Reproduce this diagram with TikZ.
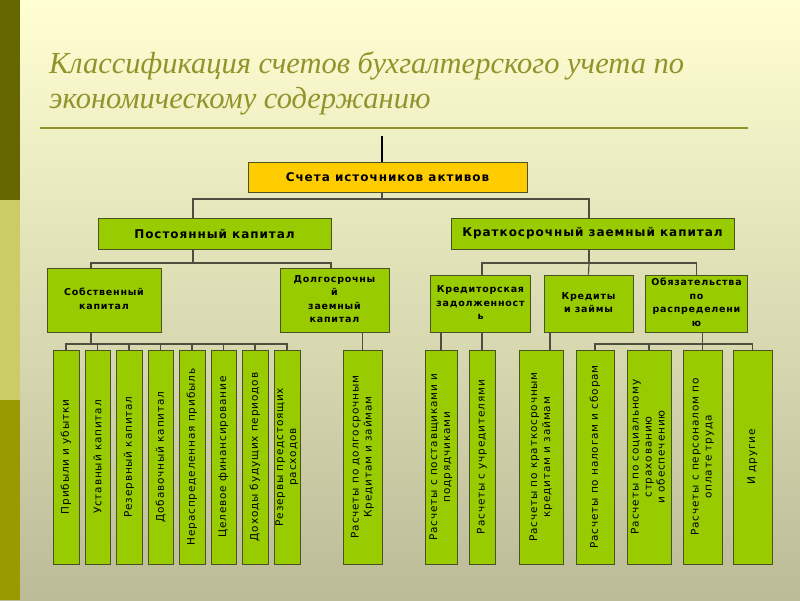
\documentclass[tikz,border=0pt]{standalone}
\usepackage{fontspec}
\setmainfont{Liberation Serif}
\newfontfamily\boxfont[LetterSpace=8]{DejaVu Sans}
\usetikzlibrary{calc}

\definecolor{bgtop}{HTML}{FFFFD2}
\definecolor{bgbot}{HTML}{BBBB98}
\definecolor{stripedark}{HTML}{666600}
\definecolor{stripelight}{HTML}{CCCC66}
\definecolor{stripemid}{HTML}{999900}
\definecolor{titlecol}{HTML}{93932C}
\definecolor{boxgreen}{HTML}{99CC00}
\definecolor{boxgold}{HTML}{FFCC00}
\definecolor{boxline}{HTML}{4A5222}
\definecolor{linkcol}{HTML}{4D4D40}

\tikzset{
  box/.style={rectangle, draw=boxline, line width=0.9pt, fill=boxgreen, inner sep=0pt, centered},
  headbox/.style={box, font=\boxfont\bfseries\fontsize{12}{13}\selectfont, minimum height=31pt},
  midbox/.style={box, font=\boxfont\bfseries\fontsize{9.5}{13.5}\selectfont},
  barbox/.style={box, font=\boxfont\fontsize{10.5}{13}\selectfont, minimum height=214pt},
  link/.style={draw=linkcol, line width=1.2pt},
}

\begin{document}
\begin{tikzpicture}[x=1pt, y=-1pt]
    \useasboundingbox (0,0) rectangle (800,600);
    \shade[top color=bgtop, bottom color=bgbot] (0,0) rectangle (800,600);
    \fill[stripedark] (0,0) rectangle (20,200);
    \fill[stripelight] (0,200) rectangle (20,400);
    \fill[stripemid] (0,400) rectangle (20,600);

    \node (title) [anchor=north west, align=left, text=titlecol, font=\itshape\fontsize{30.5}{35}\selectfont, inner sep=0pt] at (49,51) {Классификация счетов бухгалтерского учета по\\экономическому содержанию};
    \draw[titlecol, line width=2pt] (40,128) -- (748,128);

    \node (src) [headbox, fill=boxgold, minimum width=279pt, minimum height=30pt] at (387.5,177) {Счета источников активов};

    \node (perm) [headbox, minimum width=233pt] at (214.5,233.5) {Постоянный капитал};
    \node (short) [headbox, minimum width=283pt] at (592.5,233.5) {Краткосрочный заемный капитал};

    \node (own) [midbox, minimum width=114pt, minimum height=64pt] at (104,300) {\begin{tabular}{c}
         Собственный\\ капитал
    \end{tabular}};
    \node (long) [midbox, minimum width=109pt, minimum height=64pt] at (334.5,300) {\begin{tabular}{c}
         Долгосрочны\\ й\\ заемный\\ капитал
    \end{tabular}};
    \node (cred) [midbox, minimum width=97pt, minimum height=57pt] at (480.5,303.5) {\begin{tabular}{c}
         Кредиторская\\ задолженност\\ ь
    \end{tabular}};
    \node (loans) [midbox, minimum width=89pt, minimum height=57pt] at (588.5,303.5) {\begin{tabular}{c}
         Кредиты\\ и займы
    \end{tabular}};
    \node (oblig) [midbox, minimum width=101pt, minimum height=57pt] at (696.5,303.5) {\begin{tabular}{c}
         Обязательства\\ по\\ распределени\\ ю
    \end{tabular}};

    % own capital accounts
    \node (b1) [barbox, minimum width=26pt] at (66,457) {\rotatebox{90}{Прибыли и убытки}};
    \node (b2) [barbox, minimum width=25pt] at (97.5,457) {\rotatebox{90}{Уставный капитал}};
    \node (b3) [barbox, minimum width=26pt] at (129,457) {\rotatebox{90}{Резервный капитал}};
    \node (b4) [barbox, minimum width=25pt] at (160.5,457) {\rotatebox{90}{Добавочный капитал}};
    \node (b5) [barbox, minimum width=26pt] at (192,457) {\rotatebox{90}{Нераспределенная прибыль}};
    \node (b6) [barbox, minimum width=25pt] at (223.5,457) {\rotatebox{90}{Целевое финансирование}};
    \node (b7) [barbox, minimum width=26pt] at (255,457) {\rotatebox{90}{Доходы будущих периодов}};
    \node (b8) [barbox, minimum width=26pt] at (287,457) {\rotatebox{90}{\begin{tabular}{c}
         Резервы предстоящих\\ расходов
    \end{tabular}}};

    % borrowed capital accounts
    \node (b9) [barbox, minimum width=39pt] at (362.5,457) {\rotatebox{90}{\begin{tabular}{c}
         Расчеты по долгосрочным\\ Кредитам и займам
    \end{tabular}}};
    \node (b10) [barbox, minimum width=32pt] at (441,457) {\rotatebox{90}{\begin{tabular}{c}
         Расчеты с поставщиками и\\ подрядчиками
    \end{tabular}}};
    \node (b11) [barbox, minimum width=26pt] at (482,457) {\rotatebox{90}{Расчеты с учредителями}};
    \node (b12) [barbox, minimum width=44pt] at (541,457) {\rotatebox{90}{\begin{tabular}{c}
         Расчеты по краткосрочным\\ кредитам и займам
    \end{tabular}}};
    \node (b13) [barbox, minimum width=38pt] at (595,457) {\rotatebox{90}{Расчеты по налогам и сборам}};
    \node (b14) [barbox, minimum width=44pt] at (649,457) {\rotatebox{90}{\begin{tabular}{c}
         Расчеты по социальному\\ страхованию\\ и обеспечению
    \end{tabular}}};
    \node (b15) [barbox, minimum width=39pt] at (702.5,457) {\rotatebox{90}{\begin{tabular}{c}
         Расчеты с персоналом по\\ оплате труда
    \end{tabular}}};
    \node (b16) [barbox, minimum width=39pt] at (752.5,457) {\rotatebox{90}{И другие}};

    % connectors
    \coordinate (top) at (382,136);
    \coordinate (j1) at (382,199);
    \coordinate (j2) at (193,263);
    \coordinate (j3) at (589,263);
    \coordinate (j4) at (91,344);
    \coordinate (j5) at (702.5,344);

    \draw[line width=2.5pt, black] (top) -- (top |- src.north);
    \draw[link] (j1 |- src.south) -- (j1);
    \draw[link] ([xshift=-21.5pt]perm.north) |- (j1) -| ([xshift=-3.5pt]short.north);

    \draw[link] (j2 |- perm.south) -- (j2);
    \draw[link] ([xshift=-13pt]own.north) |- (j2) -| ([xshift=-3.5pt]long.north);
    \draw[link] (j3 |- short.south) -- (j3);
    \draw[link] ([xshift=1.5pt]cred.north) |- (j3) -| (oblig.north);
    \draw[link] (j3) -- (loans.north);

    \draw[link] ([xshift=-13pt]own.south) -- (j4);
    \draw[link] (b1.north) |- (j4) -| (b8.north);
    \foreach \b in {b2,b3,b4,b5,b6,b7}
        \draw[link] (\b.north) -- (\b.north |- j4);

    \draw[link] (b9.north |- long.south) -- (b9.north);
    \draw[link] (b10.north |- cred.south) -- (b10.north);
    \draw[link] (b11.north |- cred.south) -- (b11.north);
    \draw[link] ([xshift=9pt]b12.north) -- ([xshift=9pt]b12.north |- loans.south);
    \draw[link] (j5 |- oblig.south) -- (b15.north);
    \draw[link] (b13.north) |- (j5) -| (b16.north);
    \draw[link] (b14.north) -- (b14.north |- j5);
\end{tikzpicture}
\end{document}
